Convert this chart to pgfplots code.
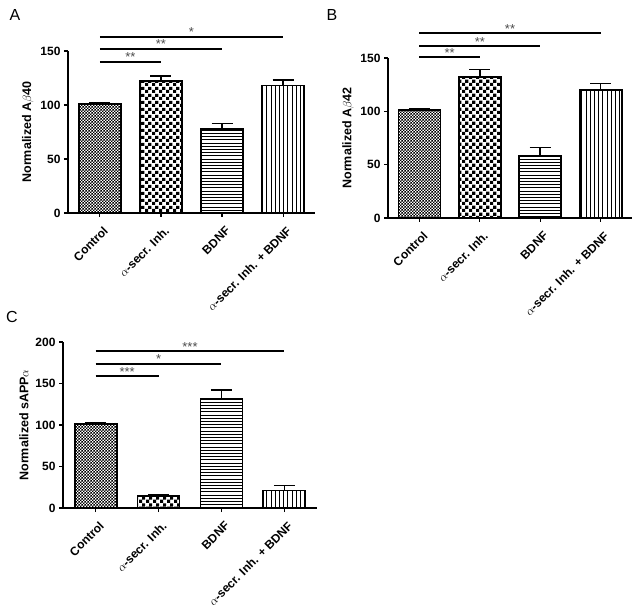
\documentclass[border=0pt]{standalone}
\usepackage{pgfplots}
\pgfplotsset{compat=1.18}
\usepackage{fontspec}
\setmainfont{Liberation Sans}
\usetikzlibrary{patterns}

\pgfdeclarepatternformonly{checkbig}{\pgfpointorigin}{\pgfpoint{6.6pt}{6.6pt}}{\pgfpoint{6.6pt}{6.6pt}}{%
  \pgfpathrectangle{\pgfpointorigin}{\pgfpoint{3.3pt}{3.3pt}}%
  \pgfpathrectangle{\pgfpoint{3.3pt}{3.3pt}}{\pgfpoint{3.3pt}{3.3pt}}%
  \pgfusepath{fill}}
\pgfdeclarepatternformonly{checksmall}{\pgfpointorigin}{\pgfpoint{3.4pt}{3.4pt}}{\pgfpoint{3.4pt}{3.4pt}}{%
  \pgfpathrectangle{\pgfpointorigin}{\pgfpoint{1.7pt}{1.7pt}}%
  \pgfpathrectangle{\pgfpoint{1.7pt}{1.7pt}}{\pgfpoint{1.7pt}{1.7pt}}%
  \pgfusepath{fill}}
\pgfdeclarepatternformonly{hl}{\pgfpoint{-1pt}{-1pt}}{\pgfpoint{4.2pt}{4.2pt}}{\pgfpoint{3.2pt}{3.2pt}}{%
  \pgfsetlinewidth{0.7pt}\pgfpathmoveto{\pgfpoint{-1pt}{1.6pt}}\pgfpathlineto{\pgfpoint{4.2pt}{1.6pt}}\pgfusepath{stroke}}
\pgfdeclarepatternformonly{vl}{\pgfpoint{-1pt}{-1pt}}{\pgfpoint{5.2pt}{5.2pt}}{\pgfpoint{4.2pt}{4.2pt}}{%
  \pgfsetlinewidth{0.7pt}\pgfpathmoveto{\pgfpoint{2.1pt}{-1pt}}\pgfpathlineto{\pgfpoint{2.1pt}{5.2pt}}\pgfusepath{stroke}}

\tikzset{star/.style={pos=0.5, above, inner sep=0pt, yshift=-1pt, text=black!70, font=\fontsize{13}{13}\selectfont}}

\pgfplotsset{
  panel/.style={
    scale only axis, clip=false,
    axis x line*=bottom, axis y line*=left,
    xmin=-0.52, xmax=3.52, ymin=0,
    xtick={0,1,2,3},
    xticklabels={Control,$\alpha$-secr. Inh.,BDNF,$\alpha$-secr. Inh. + BDNF},
    x tick label style={rotate=45, anchor=north east, inner sep=2pt, xshift=-2pt, yshift=-6pt, font=\bfseries\fontsize{12}{14}\selectfont},
    y tick label style={font=\bfseries\fontsize{12}{14}\selectfont},
    /pgf/number format/assume math mode=true,
    ylabel style={font=\bfseries\fontsize{12.5}{14}\selectfont},
    tick align=outside, major tick length=4pt,
    every tick/.style={black, line width=1.2pt},
    axis line style={line width=1.4pt},
  },
  bar/.style={ybar, bar shift=0pt, bar width=42pt, draw=black, line width=1.8pt,
    error bars/y dir=plus, error bars/y explicit,
    error bars/error bar style={line width=1.5pt, black},
    error bars/error mark options={rotate=90, mark size=10.5pt, line width=1.5pt, black}},
  sig/.style={black, line width=2pt, forget plot},
}

\begin{document}
\begin{tikzpicture}
\useasboundingbox (0,0) rectangle (639pt,615pt);

% Panel A
\begin{axis}[panel, at={(68pt,402pt)}, anchor=south west, width=247pt, height=162pt,
  ymax=150, ytick={0,50,100,150}, ylabel={Normalized A$\beta$40}]
\addplot[bar, pattern=checksmall] coordinates {(0,101) +- (0,1.5)};
\addplot[bar, pattern=checkbig] coordinates {(1,122) +- (0,5)};
\addplot[bar, pattern=hl] coordinates {(2,78) +- (0,5)};
\addplot[bar, pattern=vl] coordinates {(3,118) +- (0,5)};
\addplot[sig] coordinates {(0,140) (1,140)} node[star]{**};
\addplot[sig] coordinates {(0,152) (2,152)} node[star]{**};
\addplot[sig] coordinates {(0,163) (3,163)} node[star]{*};
\end{axis}

% Panel B
\begin{axis}[panel, at={(388pt,397pt)}, anchor=south west, width=244pt, height=160pt,
  ymax=150, ytick={0,50,100,150}, ylabel={Normalized A$\beta$42}]
\addplot[bar, pattern=checksmall] coordinates {(0,101) +- (0,1.5)};
\addplot[bar, pattern=checkbig] coordinates {(1,132) +- (0,7)};
\addplot[bar, pattern=hl] coordinates {(2,58) +- (0,8)};
\addplot[bar, pattern=vl] coordinates {(3,120) +- (0,6)};
\addplot[sig] coordinates {(0,150.5) (1,150.5)} node[star]{**};
\addplot[sig] coordinates {(0,161) (2,161)} node[star]{**};
\addplot[sig] coordinates {(0,173) (3,173)} node[star]{**};
\end{axis}

% Panel C
\begin{axis}[panel, at={(63pt,107pt)}, anchor=south west, width=254pt, height=166pt,
  ymax=200, ytick={0,50,100,150,200}, ylabel={Normalized sAPP$\alpha$}]
\addplot[bar, pattern=checksmall] coordinates {(0,101) +- (0,1.5)};
\addplot[bar, pattern=checkbig] coordinates {(1,14) +- (0,2)};
\addplot[bar, pattern=hl] coordinates {(2,132) +- (0,10)};
\addplot[bar, pattern=vl] coordinates {(3,21) +- (0,6)};
\addplot[sig] coordinates {(0,159) (1,159)} node[star]{***};
\addplot[sig] coordinates {(0,174) (2,174)} node[star]{*};
\addplot[sig] coordinates {(0,189) (3,189)} node[star]{***};
\end{axis}

\node[font=\fontsize{16}{18}\selectfont] at (15pt,600pt) {A};
\node[font=\fontsize{16}{18}\selectfont] at (332pt,600pt) {B};
\node[font=\fontsize{16}{18}\selectfont] at (12pt,298pt) {C};
\end{tikzpicture}
\end{document}
